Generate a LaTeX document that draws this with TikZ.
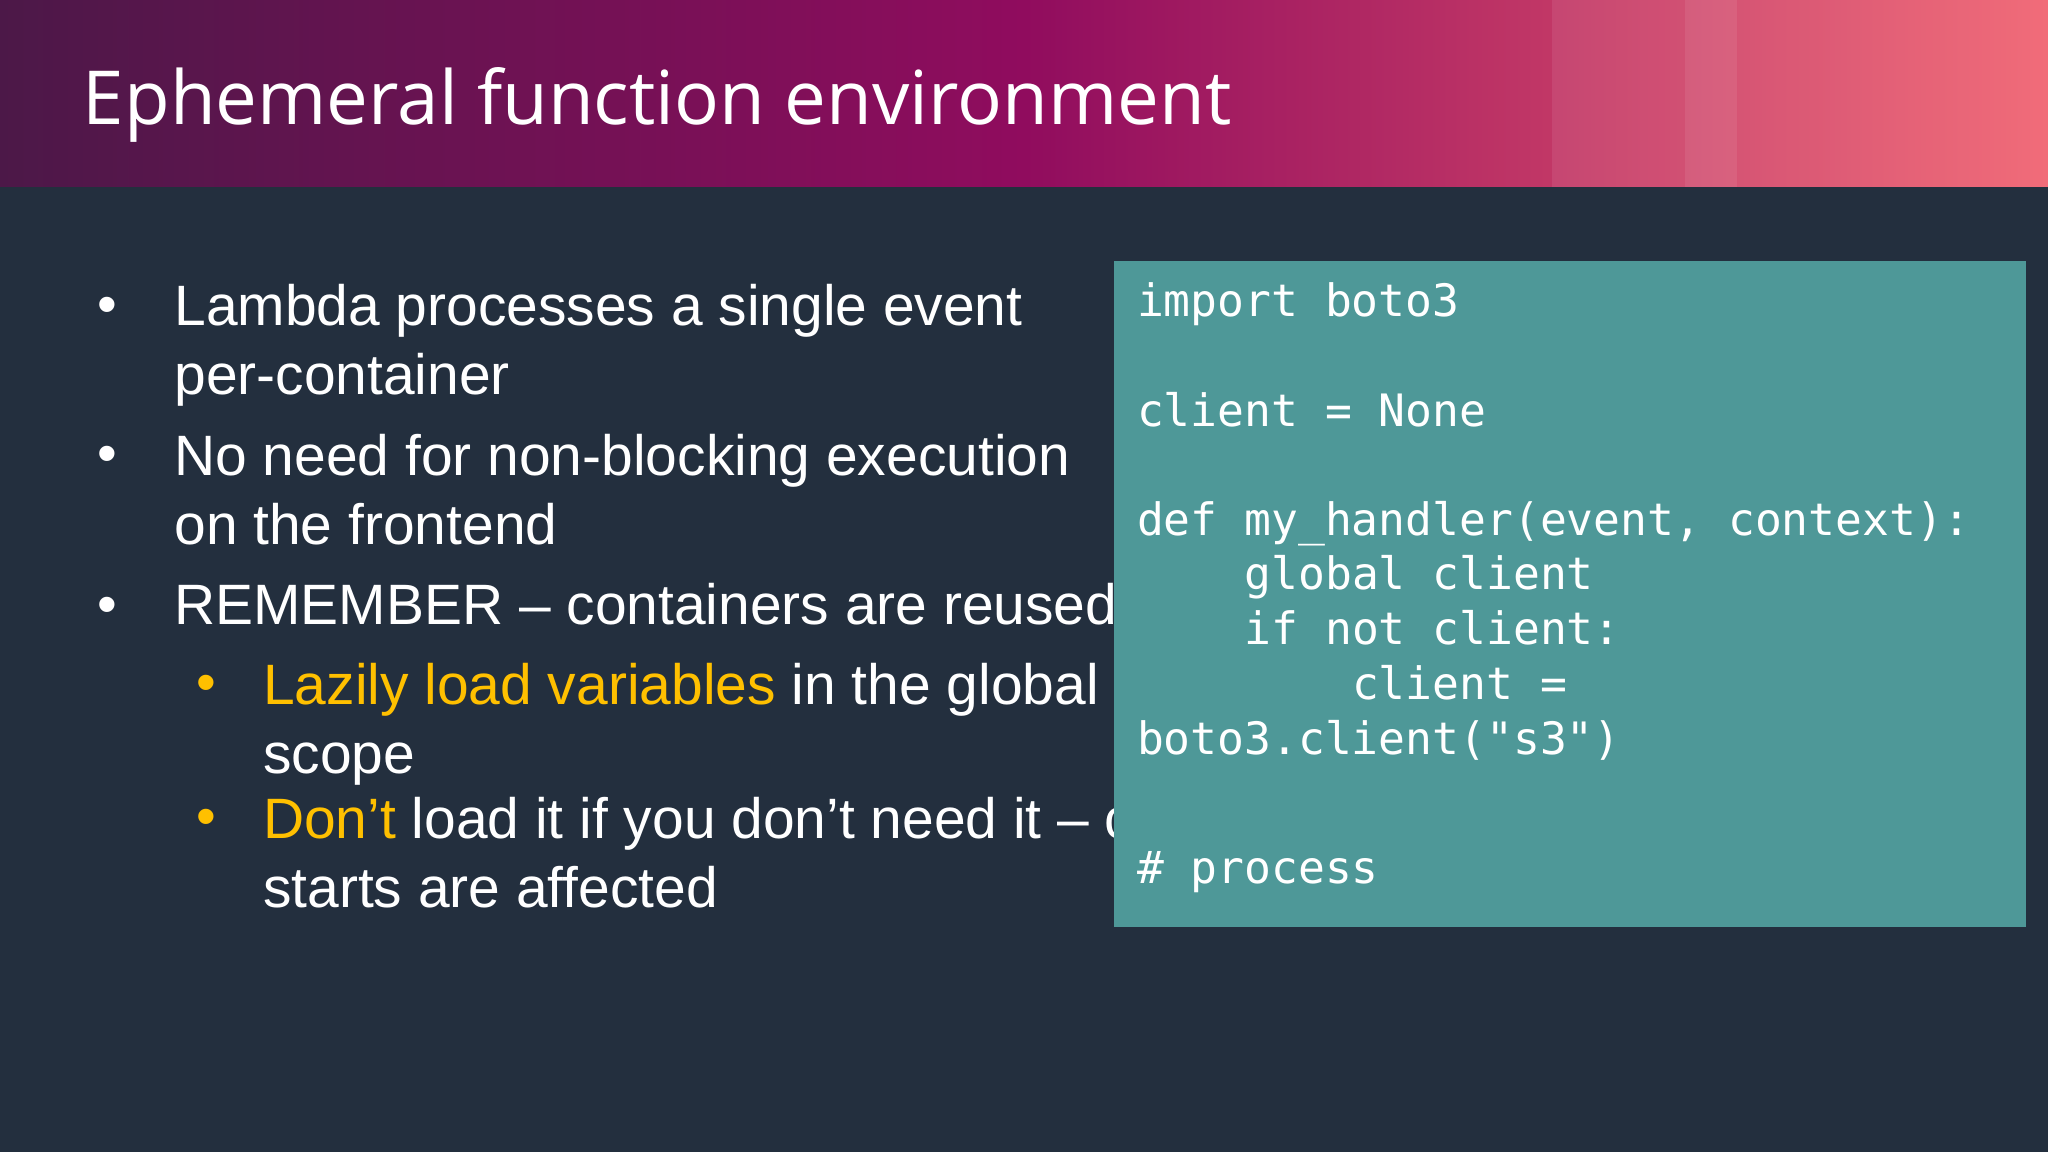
\documentclass[tikz,border=0pt]{standalone}
\usepackage{fontspec}
\setmainfont{Liberation Sans}
\newfontfamily\titlefont{Open Sans}
\newfontfamily\codefont{DejaVu Sans Mono}
\definecolor{bg}{HTML}{232F3E}
\definecolor{hA}{HTML}{4C1848}
\definecolor{hB}{HTML}{900C5E}
\definecolor{hC}{HTML}{F0606E}
\definecolor{teal}{HTML}{4E9898}
\definecolor{yel}{HTML}{FFC000}
\tikzset{
 body/.style={anchor=north west,text=white,font=\fontsize{16.2}{19.6}\selectfont,align=left,inner sep=0pt},
 code/.style={anchor=north west,text=white,font=\codefont\fontsize{12.7}{15}\selectfont,inner sep=0pt},
 bul/.style={anchor=center,text=white,font=\fontsize{16}{20}\selectfont,inner sep=0pt}
}
\begin{document}
\begin{tikzpicture}[x=0.013061cm,y=-0.013061cm]
\useasboundingbox (0,0) rectangle (1568,882);
\fill[bg] (0,0) rectangle (1568,882);
\shade[left color=hA,right color=hB] (0,0) rectangle (784,143);
\shade[left color=hB,right color=hC] (784,0) rectangle (1568,143);
\fill[white,opacity=0.08] (1188,0) rectangle (1568,143);
\fill[white,opacity=0.08] (1290,0) rectangle (1330,143);
\node[anchor=west,text=white,font=\titlefont\fontsize{21.2}{26}\selectfont,inner sep=0pt] (title) at (63,80) {Ephemeral function environment};
% bullets
\node[bul] (b1) at (82,238) {•};
\node[body] (t1) at (133,217) {Lambda processes a single event\\per-container};
\node[bul] (b2) at (82,352) {•};
\node[body] (t2) at (133,332) {No need for non-blocking execution\\on the frontend};
\node[bul] (b3) at (82,467) {•};
\node[body] (t3) at (133,446) {REMEMBER – containers are reused};
\node[bul,text=yel] (b4) at (158,527) {•};
\node[body] (t4) at (201,507) {\textcolor{yel}{Lazily load variables} in the global\\scope};
\node[bul,text=yel] (b5) at (158,630) {•};
\node[body] (t5) at (201,610) {\textcolor{yel}{Don’t} load it if you don’t need it – cold\\starts are affected};
% code box
\fill[teal] (853,200) rectangle (1551,710);
\node[code] (c1) at (870,216) {import boto3};
\node[code] (c2) at (870,300) {client = None};
\node[code] (c3) at (870,383) {def my\_handler(event, context):};
\node[code] (c4) at (870,425) {\ \ \ \ global client};
\node[code] (c5) at (870,467) {\ \ \ \ if not client:};
\node[code] (c6) at (870,509) {\ \ \ \ \ \ \ \ client =};
\node[code] (c7) at (870,551) {boto3.client("s3")};
\node[code] (c8) at (870,651) {\# process};
\end{tikzpicture}
\end{document}
